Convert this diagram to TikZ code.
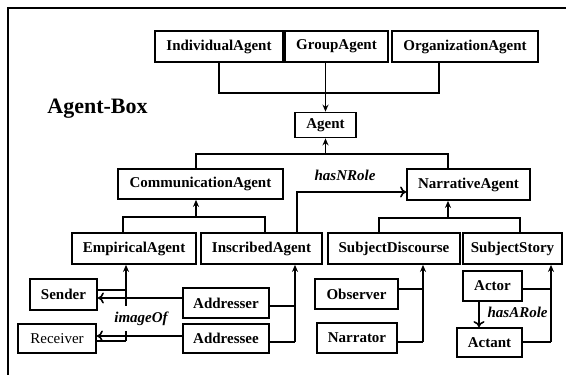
\documentclass[tikz,border=0pt]{standalone}
\usepackage{tikz}
\usepackage{xcolor}
\usepackage{fontspec}
\setmainfont{Liberation Serif}
\usetikzlibrary{arrows.meta, positioning}
\tikzstyle{agentbox} = [rectangle, draw=black, line width=1.8pt, inner sep=0pt, text centered, font=\fontsize{15}{18}\selectfont\bfseries]
\tikzstyle{rolelabel} = [font=\fontsize{15}{18}\selectfont\bfseries\itshape]
\tikzstyle{arrow} = [line width=1.6pt, -{Stealth[length=7pt,width=6pt]}]
\tikzstyle{relation} = [line width=1.6pt, -{To[length=6pt,width=11pt,line width=1.6pt]}]
\tikzstyle{line} = [line width=1.6pt, -]

\begin{document}
\begin{tikzpicture}[x=1pt, y=-1pt]
\useasboundingbox (0,0) rectangle (566,375);

% Frame
\draw [line width=2.5pt] (8,375) -- (8,8) -- (566,8);
\node (title) at (97.5,109) [font=\fontsize{22}{26}\selectfont\bfseries] {Agent-Box};

% Top row
\node (indiv) at (219,46.5) [agentbox, minimum width=128pt, minimum height=31pt] {IndividualAgent};
\node (group) at (336.5,46.5) [agentbox, minimum width=103pt, minimum height=31pt] {GroupAgent};
\node (org) at (465,46.5) [agentbox, minimum width=146pt, minimum height=31pt] {OrganizationAgent};

% Agent
\node (agent) at (325.5,125) [agentbox, minimum width=61pt, minimum height=25pt] {Agent};

% Second row
\node (comm) at (200.5,184) [agentbox, minimum width=165pt, minimum height=30pt] {CommunicationAgent};
\node (narr) at (468.5,184.5) [agentbox, minimum width=123pt, minimum height=31pt] {NarrativeAgent};

% Third row
\node (emp) at (134,248.5) [agentbox, minimum width=124pt, minimum height=31pt] {EmpiricalAgent};
\node (insc) at (261.5,248.5) [agentbox, minimum width=121pt, minimum height=31pt] {InscribedAgent};
\node (subdisc) at (394,248.5) [agentbox, minimum width=132pt, minimum height=31pt] {SubjectDiscourse};
\node (substory) at (512.5,248.5) [agentbox, minimum width=99pt, minimum height=31pt] {SubjectStory};

% Roles
\node (sender) at (63.5,294.5) [agentbox, minimum width=67pt, minimum height=31pt] {Sender};
\node (receiver) at (57,338.5) [agentbox, minimum width=78pt, minimum height=29pt, font=\fontsize{15}{18}\selectfont] {Receiver};
\node (addresser) at (226,303) [agentbox, minimum width=86pt, minimum height=30pt] {Addresser};
\node (addressee) at (226,338.5) [agentbox, minimum width=86pt, minimum height=29pt] {Addressee};
\node (observer) at (356.5,294) [agentbox, minimum width=83pt, minimum height=30pt] {Observer};
\node (narrator) at (357,338) [agentbox, minimum width=80pt, minimum height=30pt] {Narrator};
\node (actor) at (492.5,286) [agentbox, minimum width=59pt, minimum height=30pt] {Actor};
\node (actant) at (489.5,342.5) [agentbox, minimum width=65pt, minimum height=29pt] {Actant};

% Joins
\coordinate (top-join) at (325.5,93);
\coordinate (agent-join) at (325.5,154);
\coordinate (comm-join) at (196,217);
\coordinate (narr-join) at (448,218);
\coordinate (emp-mid) at (126,290);
\coordinate (emp-low) at (126,341);
\coordinate (insc-mid) at (295,306);
\coordinate (insc-low) at (295,342);
\coordinate (sd-mid) at (423,289);
\coordinate (sd-low) at (423,342);
\coordinate (ss-mid) at (551,289);
\coordinate (ss-low) at (551,342);

% Arrows
\draw [line] (indiv.south) |- (top-join);
\draw [line] ([xshift=-26pt]org.south) |- (top-join);
\draw [arrow] (agent.north |- group.south) -- (agent.north);

\draw [line] ([xshift=-4.5pt]comm.north) |- (agent-join);
\draw [line] ([xshift=-20.5pt]narr.north) |- (agent-join);
\draw [arrow] (agent-join) -- (agent.south);

\draw [line] ([xshift=-11pt]emp.north) |- (comm-join);
\draw [line] ([xshift=3.5pt]insc.north) |- (comm-join);
\draw [arrow] (comm-join) -- (comm.south -| comm-join);

\draw [line] ([xshift=-15pt]subdisc.north) |- (narr-join);
\draw [line] ([xshift=7.5pt]substory.north) |- (narr-join);
\draw [arrow] (narr-join) -- (narr.south -| narr-join);

\draw [relation] ([xshift=35.5pt]insc.north) |- node[rolelabel, above=7pt, pos=0.72] {hasNRole} ([yshift=-7.5pt]narr.west);

\draw [line] (sender.east |- emp-mid) -- (emp-mid);
\draw [line] (receiver.east |- emp-low) -- (emp-low);
\draw [arrow] (emp-low) -- (emp.south -| emp-low);
\draw [relation] ([yshift=5pt]addresser.west) -- ([yshift=-3.5pt]sender.east);
\draw [relation] ([yshift=2.5pt]addressee.west) -- ([yshift=2.5pt]receiver.east);
\node (imageof) at (141,318.5) [rolelabel, fill=white, minimum height=25pt, inner sep=1pt] {imageOf};

\draw [line] (addresser.east |- insc-mid) -- (insc-mid);
\draw [line] (addressee.east |- insc-low) -- (insc-low);
\draw [arrow] (insc-low) -- (insc.south -| insc-low);

\draw [line] (observer.east |- sd-mid) -- (sd-mid);
\draw [line] (narrator.east |- sd-low) -- (sd-low);
\draw [arrow] (sd-low) -- (subdisc.south -| sd-low);

\draw [line] (actor.east |- ss-mid) -- (ss-mid);
\draw [line] (actant.east |- ss-low) -- (ss-low);
\draw [arrow] (ss-low) -- (substory.south -| ss-low);
\draw [relation] ([xshift=-13.5pt]actor.south) -- node[rolelabel, right=4.5pt, pos=0.4] {hasARole} ([xshift=-10.5pt]actant.north);

\end{tikzpicture}
\end{document}
